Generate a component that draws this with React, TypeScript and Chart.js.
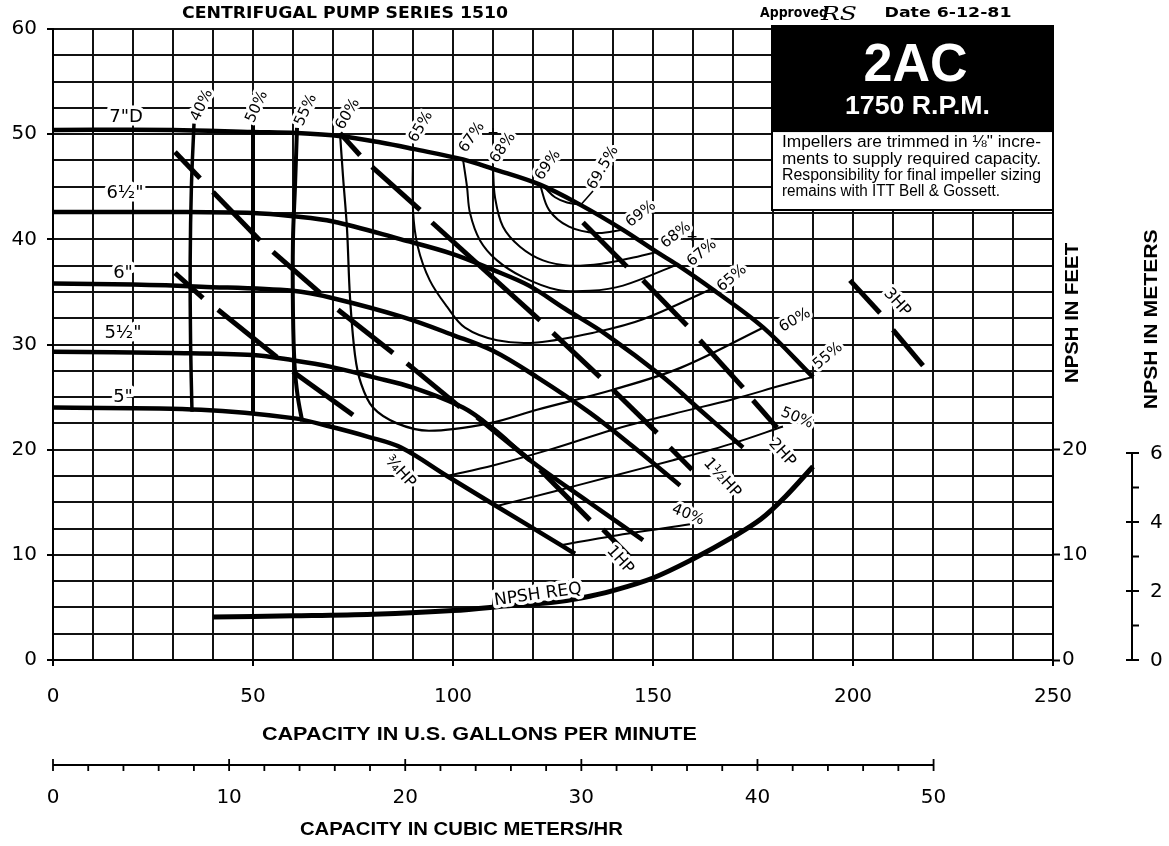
import React, { useEffect, useRef } from 'react';
import { Chart, registerables } from 'chart.js';

Chart.register(...registerables);

type P = [number, number];
type Seg = [number, number, number, number];

// ---------- axes ----------
const GPM_MIN = 0;
const GPM_MAX = 250;
const FT_MIN = 0;
const FT_MAX = 60;
const GPM_LABEL_STEP = 50;
const FT_LABEL_STEP = 10;
const RIGHT_FT_LABELS = [0, 10, 20];
const METER_TICKS = [0, 1, 2, 3, 4, 5, 6];
const METER_LABELS = [0, 2, 4, 6];
const M3H_TICKS = [0, 2, 4, 6, 8, 10, 12, 14, 16, 18, 20, 22, 24, 26, 28, 30, 32, 34, 36, 38, 40, 42, 44, 46, 48, 50];
const M3H_LABELS = [0, 10, 20, 30, 40, 50];
const FT_PER_M = 3.2808;
const GPM_PER_M3H = 4.4029;

// ---------- impeller head curves (gpm, ft) ----------
const HEAD_7: P[] = [[0, 50.4], [30, 50.4], [50, 50.2], [61, 50.1], [72, 49.8], [82, 49.2], [90, 48.6], [102.5, 47.6], [110, 46.7], [121.75, 45.2], [131.75, 43.3], [142.5, 40.9], [150.9, 38.8], [156, 37.6], [164.7, 35.3], [177.6, 31.6], [190, 26.9]];
const HEAD_6_5: P[] = [[0, 42.6], [30, 42.6], [50, 42.5], [60, 42.2], [70, 41.7], [87, 40.0], [100, 38.6], [110, 37.1], [119, 35.6], [128, 33.4], [138.5, 30.9], [152.5, 26.9], [162, 23.7], [172.5, 20.2]];
const HEAD_6: P[] = [[0, 35.8], [20, 35.7], [37, 35.5], [60, 35.1], [70, 34.4], [87.5, 32.6], [100, 30.9], [110, 29.4], [121, 26.9], [134.25, 23.5], [145, 20.3], [156.75, 16.6]];
const HEAD_5_5: P[] = [[0, 29.3], [30, 29.2], [50, 29.0], [60, 28.5], [69.25, 27.9], [80, 26.9], [90, 25.9], [102.5, 24.0], [110, 22.0], [119.25, 19.0], [134, 15.0], [147.5, 11.4]];
const HEAD_5: P[] = [[0, 24.0], [37, 23.8], [60, 23.0], [69.25, 22.2], [79, 21.2], [87, 20.2], [98.5, 17.5], [111, 14.6], [127.5, 10.8], [130.5, 10.1]];

// ---------- NPSH required ----------
const NPSH_REQ: P[] = [[40, 4.1], [60, 4.2], [80, 4.35], [100, 4.7], [115, 5.2], [125, 5.5], [132, 5.9], [140, 6.6], [150, 7.8], [160, 9.6], [170, 11.7], [177, 13.4], [183, 15.5], [190, 18.4]];

// ---------- efficiency contours ----------
const EFF40_L: P[] = [[35.25, 51.0], [34.6, 45], [34.3, 38], [34.4, 30], [34.75, 23.6]];
const EFF50_L: P[] = [[50, 51.0], [50, 23.3]];
const EFF55_L: P[] = [[61, 50.6], [60.5, 45], [60, 40], [60, 33], [60.4, 28], [61.2, 25], [62.3, 22.7]];
const EFF60: P[] = [[71.75, 50.1], [72.5, 46], [73.5, 41], [74.25, 34.5], [75.5, 29], [77, 26.3], [80, 24], [86, 22.5], [94, 21.8], [109, 22.5], [121, 23.8], [140, 25.7], [157, 27.8], [177.5, 31.6]];
const EFF65: P[] = [[90, 48.6], [90, 42.8], [91.2, 39.3], [94.2, 36.1], [98.5, 33.6], [103, 31.6], [111, 30.4], [121, 30.2], [136, 31.2], [147.5, 32.4], [164.75, 35.3]];
const EFF67: P[] = [[102.5, 47.6], [103.5, 45], [104.25, 42.5], [106.75, 39.9], [111, 38.0], [117.5, 36.4], [126, 35.2], [134.25, 35.1], [142.5, 35.6], [156, 37.6]];
const EFF68: P[] = [[110, 46.7], [110.5, 44], [112.5, 41.2], [116.75, 39.3], [122.5, 38.0], [129.25, 37.5], [137.5, 37.7], [144.25, 38.2], [150.9, 38.8]];
const EFF69: P[] = [[121.75, 45.2], [124, 42.8], [129, 41.2], [136, 40.6], [142.5, 40.9]];
const EFF69_5: P[] = [[123, 44.9], [125.5, 44.0], [128.5, 43.5], [131.75, 43.3]];
const EFF55_R: P[] = [[98.5, 17.5], [110, 18.5], [125, 20.1], [140, 21.9], [155, 23.4], [170, 24.8], [182, 26.1], [189.75, 26.9]];
const EFF50_R: P[] = [[110.5, 14.6], [125, 16.0], [140, 17.5], [155, 19.0], [170, 20.6], [182.5, 22.2]];
const EFF40_R: P[] = [[126.75, 10.9], [140, 11.8], [159.25, 12.9]];

// ---------- brake horsepower lines (dash segments x1,y1,x2,y2) ----------
const HP_3_4: Seg[] = [[30.5, 36.8, 37.5, 34.4], [41.25, 33.3, 56, 28.8], [60, 27.4, 75, 23.3]];
const HP_1: Seg[] = [[30.5, 48.3, 36.75, 45.8], [40, 44.5, 51.75, 39.9], [55, 38.8, 66.75, 34.9], [71.25, 33.3, 85, 29.2], [88.5, 28.2, 101.75, 24.05], [106, 23.1, 119.25, 19.0], [121.75, 18.1, 134.25, 13.3], [137.5, 12.4, 144.25, 9.8]];
const HP_1_5: Seg[] = [[71.75, 50.1, 76.75, 48.0], [79.75, 46.9, 91.75, 42.8], [94.75, 41.6, 121.75, 32.3], [125, 31.1, 136.75, 26.9], [140, 25.7, 151, 21.6], [154.25, 20.2, 159.75, 18.1]];
const HP_2: Seg[] = [[132.5, 41.6, 143.5, 37.4], [147.5, 36.1, 158.5, 31.8], [161.75, 30.4, 172.5, 25.9], [175, 24.7, 181, 22.1]];
const HP_3: Seg[] = [[199.25, 36.1, 206.75, 33.0], [210, 31.4, 217.5, 28.0]];

// ---------- annotation texts (anchored in data units) ----------
const HEAD_LABELS = [
  { t: '7"D', x: 18.25, y: 51.6 },
  { t: '6½"', x: 18, y: 44.4 },
  { t: '6"', x: 17.5, y: 36.8 },
  { t: '5½"', x: 17.5, y: 31.1 },
  { t: '5"', x: 17.5, y: 25.0 },
];
const EFF_LABELS = [
  { t: '40%', x: 37.25, y: 52.75, r: -65 },
  { t: '50%', x: 51, y: 52.6, r: -65 },
  { t: '55%', x: 63.25, y: 52.3, r: -65 },
  { t: '60%', x: 73.75, y: 51.9, r: -60 },
  { t: '65%', x: 92, y: 50.7, r: -60 },
  { t: '67%', x: 104.75, y: 49.7, r: -55 },
  { t: '68%', x: 112.5, y: 48.7, r: -55 },
  { t: '69%', x: 123.75, y: 47.05, r: -55 },
  { t: '69.5%', x: 137.5, y: 46.8, r: -60 },
  { t: '69%', x: 147, y: 42.4, r: -38 },
  { t: '68%', x: 155.75, y: 40.4, r: -38 },
  { t: '67%', x: 162.25, y: 38.7, r: -40 },
  { t: '65%', x: 169.75, y: 36.3, r: -40 },
  { t: '60%', x: 185.5, y: 32.3, r: -30 },
  { t: '55%', x: 193.75, y: 28.9, r: -40 },
  { t: '50%', x: 186, y: 23.0, r: 22 },
  { t: '40%', x: 158.75, y: 13.8, r: 22 },
];
const HP_LABELS = [
  { t: '¾HP', x: 86.75, y: 17.9 },
  { t: '1HP', x: 141.75, y: 9.5 },
  { t: '1½HP', x: 167.25, y: 17.3 },
  { t: '2HP', x: 182.25, y: 19.7 },
  { t: '3HP', x: 211, y: 34.0 },
];
const PLUS_MARKS: P[] = [[110, 50.1], [159.75, 40.2]];
const LEADER_69_5: Seg = [131.75, 43.2, 135, 44.6];
const NPSH_LABEL = { t: 'NPSH REQ', x: 121.25, y: 6.2, r: -8 };

const TITLE = 'CENTRIFUGAL PUMP SERIES 1510';
const APPROVED = 'Approved';
const SIGN = 'RS';
const DATE = 'Date 6-12-81';
const MODEL = '2AC';
const SPEED = '1750 R.P.M.';
const NOTE = [
  'Impellers are trimmed in ⅛" incre-',
  'ments to supply required capacity.',
  'Responsibility for final impeller sizing',
  'remains with ITT Bell & Gossett.',
];
const X_TITLE = 'CAPACITY IN U.S. GALLONS PER MINUTE';
const X2_TITLE = 'CAPACITY IN CUBIC METERS/HR';
const Y_TITLE = 'NPSH IN FEET';
const Y2_TITLE = 'NPSH IN METERS';

// box corners in data units
const BOX_LEFT_GPM = 179.75;
const BOX_BLACK_BOTTOM_FT = 50.2;
const BOX_WHITE_BOTTOM_FT = 42.8;

const NUM_FONT = '"DejaVu Sans", sans-serif';
const LABEL_FONT = '"DejaVu Sans", sans-serif';
const HELV = '"Liberation Sans", Arial, sans-serif';

type TOpts = { font: string; align?: CanvasTextAlign; base?: CanvasTextBaseline; rot?: number; halo?: number; w?: number; color?: string };
function txt(ctx: CanvasRenderingContext2D, s: string, x: number, y: number, o: TOpts) {
  ctx.save();
  ctx.translate(x, y);
  if (o.rot) ctx.rotate((o.rot * Math.PI) / 180);
  ctx.font = o.font;
  ctx.textAlign = o.align || 'center';
  ctx.textBaseline = o.base || 'middle';
  if (o.w) {
    const m = ctx.measureText(s).width;
    if (m > 0) ctx.scale(o.w / m, 1);
  }
  if (o.halo) {
    ctx.lineWidth = o.halo;
    ctx.strokeStyle = '#fff';
    ctx.lineJoin = 'round';
    ctx.strokeText(s, 0, 0);
  }
  ctx.fillStyle = o.color || '#000';
  ctx.fillText(s, 0, 0);
  ctx.restore();
}

function seg(ctx: CanvasRenderingContext2D, x1: number, y1: number, x2: number, y2: number, w: number) {
  ctx.beginPath();
  ctx.moveTo(x1, y1);
  ctx.lineTo(x2, y2);
  ctx.lineWidth = w;
  ctx.strokeStyle = '#000';
  ctx.stroke();
}

const decor = {
  id: 'decor',
  beforeDraw(chart: any) {
    const { ctx, width, height } = chart;
    ctx.save();
    ctx.fillStyle = '#fff';
    ctx.fillRect(0, 0, width, height);
    ctx.restore();
  },
  afterDatasetsDraw(chart: any) {
    const ctx: CanvasRenderingContext2D = chart.ctx;
    const ca = chart.chartArea;
    const xs = chart.scales.x;
    const ys = chart.scales.y;
    const X = (v: number) => xs.getPixelForValue(v);
    const Y = (v: number) => ys.getPixelForValue(v);

    // curve labels
    HEAD_LABELS.forEach((l) => txt(ctx, l.t, X(l.x), Y(l.y), { font: `18px ${LABEL_FONT}`, halo: 7 }));
    EFF_LABELS.forEach((l) => txt(ctx, l.t, X(l.x), Y(l.y), { font: `15px ${LABEL_FONT}`, rot: l.r, halo: 6 }));
    HP_LABELS.forEach((l) => txt(ctx, l.t, X(l.x), Y(l.y), { font: `16px ${LABEL_FONT}`, rot: 48, halo: 6 }));
    PLUS_MARKS.forEach(([x, y]) => txt(ctx, '+', X(x), Y(y), { font: `14px ${LABEL_FONT}` }));
    ctx.save();
    seg(ctx, X(LEADER_69_5[0]), Y(LEADER_69_5[1]), X(LEADER_69_5[2]), Y(LEADER_69_5[3]), 1.6);
    ctx.restore();
    txt(ctx, NPSH_LABEL.t, X(NPSH_LABEL.x), Y(NPSH_LABEL.y), { font: `17px ${LABEL_FONT}`, rot: NPSH_LABEL.r, halo: 7 });

    // model box
    const bl = X(BOX_LEFT_GPM);
    const br = ca.right;
    const bt = ca.top - 4;
    const bm = Y(BOX_BLACK_BOTTOM_FT);
    const bb = Y(BOX_WHITE_BOTTOM_FT);
    ctx.save();
    ctx.fillStyle = '#fff';
    ctx.fillRect(bl, bt, br - bl, bb - bt);
    ctx.fillStyle = '#000';
    ctx.fillRect(bl, bt, br - bl, bm - bt);
    ctx.lineWidth = 2;
    ctx.strokeStyle = '#000';
    ctx.beginPath();
    ctx.moveTo(bl, bt);
    ctx.lineTo(bl, bb);
    ctx.lineTo(br, bb);
    ctx.moveTo(br, bt);
    ctx.lineTo(br, bb);
    ctx.stroke();
    ctx.restore();
    const bc = (bl + br) / 2;
    txt(ctx, MODEL, bc + 3, bt + 41, { font: `bold 54px ${HELV}`, color: '#fff', w: 104 });
    txt(ctx, SPEED, bc + 5, bt + 82, { font: `bold 26px ${HELV}`, color: '#fff', w: 145 });
    NOTE.forEach((s, i) => {
      txt(ctx, s, bl + 10, bm + 11 + i * 16.3, { font: `16px ${HELV}`, align: 'left', w: i < 3 ? 259 : 218 });
    });
  },
  afterDraw(chart: any) {
    const ctx: CanvasRenderingContext2D = chart.ctx;
    const ca = chart.chartArea;
    const xs = chart.scales.x;
    const ys = chart.scales.y;
    const X = (v: number) => xs.getPixelForValue(v);
    const Y = (v: number) => ys.getPixelForValue(v);

    // header
    txt(ctx, TITLE, X(73), 14, { font: `bold 15px ${LABEL_FONT}`, w: 326 });
    txt(ctx, APPROVED, X(176.75), 13, { font: `bold 14px ${LABEL_FONT}`, align: 'left', w: 68 });
    txt(ctx, SIGN, X(196.5), 15, { font: `italic 19px "DejaVu Serif", serif`, w: 36 });
    txt(ctx, DATE, X(223.75), 13, { font: `bold 14px ${LABEL_FONT}`, w: 127 });

    // right titles
    txt(ctx, Y_TITLE, ca.right + 20, Y(33.0), { font: `bold 19px ${HELV}`, rot: -90, w: 140 });
    txt(ctx, Y2_TITLE, ca.right + 99, Y(32.4), { font: `bold 19px ${HELV}`, rot: -90, w: 180 });

    // meter scale
    const mx = ca.right + 79;
    ctx.save();
    ctx.strokeStyle = '#000';
    ctx.lineWidth = 2;
    ctx.beginPath();
    ctx.moveTo(mx, Y(0));
    ctx.lineTo(mx, Y(6 * FT_PER_M));
    METER_TICKS.forEach((m) => {
      const py = Y(m * FT_PER_M);
      const both = m % 2 === 0;
      ctx.moveTo(both ? mx - 6 : mx, py);
      ctx.lineTo(mx + 7, py);
    });
    ctx.stroke();
    ctx.restore();
    METER_LABELS.forEach((m) => txt(ctx, String(m), mx + 18, Y(m * FT_PER_M) + 1, { font: `20px ${NUM_FONT}`, align: 'left' }));

    // bottom titles
    txt(ctx, X_TITLE, X(106.6), 735, { font: `bold 18px ${HELV}`, w: 435 });
    txt(ctx, X2_TITLE, X(102.1), 830, { font: `bold 18px ${HELV}`, w: 323 });

    // cubic meters/hr scale
    const sy = 765;
    ctx.save();
    ctx.strokeStyle = '#000';
    ctx.lineWidth = 1.8;
    ctx.beginPath();
    ctx.moveTo(X(0), sy);
    ctx.lineTo(X(50 * GPM_PER_M3H), sy);
    M3H_TICKS.forEach((m) => {
      const px = X(m * GPM_PER_M3H);
      const major = m % 10 === 0;
      ctx.moveTo(px, major ? sy - 6 : sy);
      ctx.lineTo(px, sy + 6);
    });
    ctx.stroke();
    ctx.restore();
    M3H_LABELS.forEach((m) => txt(ctx, String(m), X(m * GPM_PER_M3H), 798, { font: `20px ${NUM_FONT}` }));
  },
};

const line = (data: P[], w: number, extra: any = {}) => ({
  type: 'line',
  data: data.map(([x, y]) => ({ x, y })),
  borderColor: '#000',
  borderWidth: w,
  pointRadius: 0,
  tension: 0.35,
  fill: false,
  ...extra,
});

const dashSets = (segs: Seg[], w: number) =>
  segs.map(([x1, y1, x2, y2]) => line([[x1, y1], [x2, y2]], w, { tension: 0, borderCapStyle: 'butt' }));

export default function App() {
  const ref = useRef<HTMLCanvasElement>(null);
  useEffect(() => {
    const canvas = ref.current;
    if (!canvas) return;
    const datasets: any[] = [
      line(HEAD_7, 4.5),
      line(HEAD_6_5, 4.5),
      line(HEAD_6, 4.5),
      line(HEAD_5_5, 4.5),
      line(HEAD_5, 4.5),
      line(NPSH_REQ, 5),
      line(EFF40_L, 3.5),
      line(EFF50_L, 4),
      line(EFF55_L, 4),
      line(EFF60, 2.2),
      line(EFF65, 2),
      line(EFF67, 2),
      line(EFF68, 2),
      line(EFF69, 2),
      line(EFF69_5, 2),
      line(EFF55_R, 2),
      line(EFF50_R, 2),
      line(EFF40_R, 2),
      ...dashSets(HP_3_4, 5),
      ...dashSets(HP_1, 5),
      ...dashSets(HP_1_5, 5),
      ...dashSets(HP_2, 5),
      ...dashSets(HP_3, 5),
    ];
    const chart = new Chart(canvas, {
      type: 'line',
      data: { datasets },
      options: {
        responsive: false,
        animation: false,
        devicePixelRatio: 1,
        events: [],
        layout: { padding: { top: 29, left: 0, right: 0, bottom: 0 } },
        plugins: { legend: { display: false }, tooltip: { enabled: false } },
        scales: {
          x: {
            type: 'linear',
            position: 'bottom',
            min: GPM_MIN,
            max: GPM_MAX,
            ticks: {
              stepSize: 10,
              autoSkip: false,
              maxRotation: 0,
              padding: 19,
              color: '#000',
              font: { family: 'DejaVu Sans', size: 20 },
              callback: (v: any) => (Number(v) % GPM_LABEL_STEP === 0 ? String(v) : ''),
            },
            grid: {
              color: '#111',
              lineWidth: 2,
              tickLength: 6,
              tickWidth: 2,
              tickColor: (c: any) => (c.tick && c.tick.value % GPM_LABEL_STEP === 0 ? '#000' : 'rgba(0,0,0,0)'),
            },
            border: { display: true, color: '#000', width: 2 },
            afterFit: (s: any) => {
              s.height = 186;
            },
          },
          y: {
            type: 'linear',
            position: 'left',
            min: FT_MIN,
            max: FT_MAX,
            ticks: {
              stepSize: 2.5,
              autoSkip: false,
              padding: 10,
              color: '#000',
              font: { family: 'DejaVu Sans', size: 20 },
              callback: (v: any) => (Number(v) % FT_LABEL_STEP === 0 ? String(v) : ''),
            },
            grid: {
              color: '#111',
              lineWidth: 2,
              tickLength: 6,
              tickWidth: 2,
              tickColor: (c: any) => (c.tick && c.tick.value % FT_LABEL_STEP === 0 ? '#000' : 'rgba(0,0,0,0)'),
            },
            border: { display: true, color: '#000', width: 2 },
            afterFit: (s: any) => {
              s.width = 53;
            },
          },
          yR: {
            type: 'linear',
            position: 'right',
            min: FT_MIN,
            max: FT_MAX,
            ticks: {
              stepSize: 10,
              autoSkip: false,
              padding: 2,
              color: '#000',
              font: { family: 'DejaVu Sans', size: 20 },
              callback: (v: any) => (RIGHT_FT_LABELS.includes(Number(v)) ? String(v) : ''),
            },
            grid: {
              drawOnChartArea: false,
              tickLength: 7,
              tickWidth: 2,
              tickColor: (c: any) => (c.tick && RIGHT_FT_LABELS.includes(c.tick.value) ? '#000' : 'rgba(0,0,0,0)'),
            },
            border: { display: true, color: '#000', width: 2 },
            afterFit: (s: any) => {
              s.width = 116;
            },
          },
        },
      } as any,
      plugins: [decor],
    });
    return () => chart.destroy();
  }, []);
  return (
    <div style={{ position: 'fixed', left: 0, top: 0, width: 1169, height: 846, background: '#fff' }}>
      <canvas ref={ref} width={1169} height={846} style={{ display: 'block', width: 1169, height: 846 }} />
    </div>
  );
}
